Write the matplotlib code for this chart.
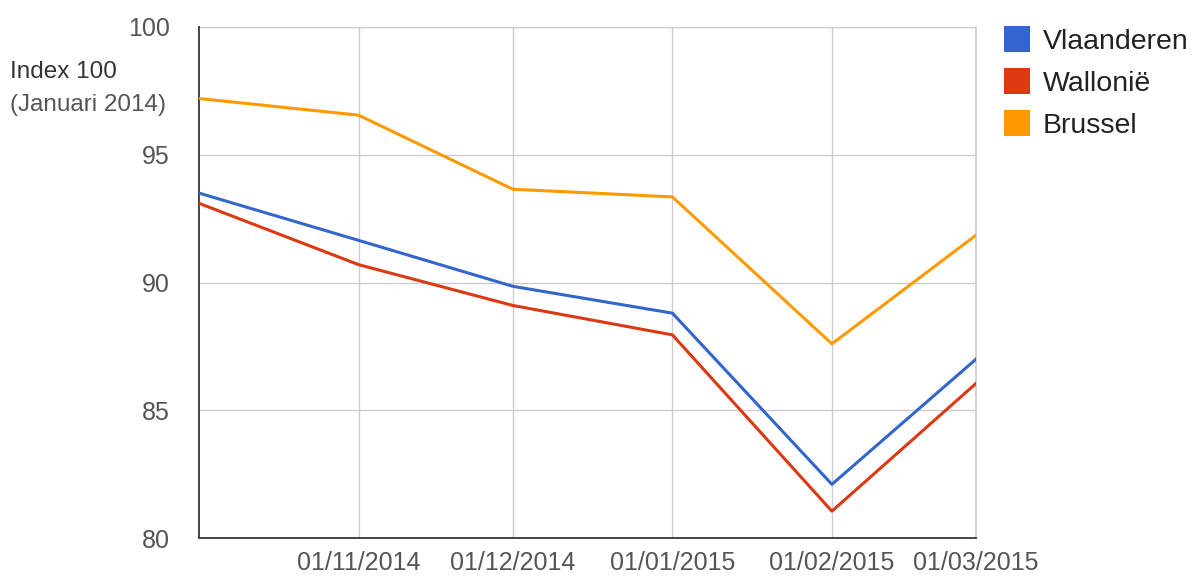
import matplotlib
matplotlib.use("Agg")
import matplotlib.pyplot as plt
import pandas as pd
from matplotlib.patches import Rectangle

plt.rcParams["font.family"] = ["Liberation Sans", "DejaVu Sans"]

# data
months = ["2014-10-01", "2014-11-01", "2014-12-01", "2015-01-01", "2015-02-01", "2015-03-01"]
vlaanderen = [93.5, 91.65, 89.85, 88.8, 82.1, 87.0]
wallonie = [93.1, 90.7, 89.1, 87.95, 81.05, 86.05]
brussel = [97.2, 96.55, 93.65, 93.35, 87.6, 91.85]
series_names = ["Vlaanderen", "Wallonië", "Brussel"]
colors = ["#3366cc", "#dc3912", "#ff9900"]
yticks = [80, 85, 90, 95, 100]
xtick_dates = months[1:]

W, H = 1192, 580
dates = pd.to_datetime(months)

fig = plt.figure(figsize=(W / 100, H / 100), dpi=100)
ax = fig.add_axes([199 / W, 1 - 538 / H, (976 - 199) / W, (538 - 27) / H])

for vals, name, c in zip([vlaanderen, wallonie, brussel], series_names, colors):
    ax.plot(dates, vals, color=c, lw=2.2, label=name, solid_joinstyle="round", zorder=3)

ax.set_xlim(dates[0], dates[-1])
ax.set_ylim(80, 100)
ax.set_yticks(yticks)
ax.set_yticklabels([str(v) for v in yticks])
xt = pd.to_datetime(xtick_dates)
ax.set_xticks(xt)
ax.set_xticklabels([d.strftime("%d/%m/%Y") for d in xt])

ax.grid(True, color="#cccccc", lw=1, zorder=0)
for s in ["top", "right"]:
    ax.spines[s].set_visible(False)
for s in ["left", "bottom"]:
    ax.spines[s].set_color("#444444")
    ax.spines[s].set_linewidth(1.4)
ax.tick_params(axis="both", length=0, labelsize=18, labelcolor="#555555")
ax.tick_params(axis="y", pad=21)
ax.tick_params(axis="x", pad=9)

# top and right border grid lines
ax.axhline(100, color="#cccccc", lw=1, zorder=0)
ax.axvline(dates[-1], color="#cccccc", lw=1.2, zorder=0, clip_on=False)

fig.text(10 / W, 1 - 72 / H, "Index 100", fontsize=17.5, color="#333333", va="center", ha="left")
fig.text(10 / W, 1 - 105 / H, "(Januari 2014)", fontsize=17.5, color="#555555", va="center", ha="left")

# legend, drawn by hand to match the spacing
for i, (name, c) in enumerate(zip(series_names, colors)):
    top = 26 + 42 * i
    fig.patches.append(Rectangle((1004 / W, 1 - (top + 26) / H), 26 / W, 26 / H,
                                 transform=fig.transFigure, facecolor=c, edgecolor="none"))
    fig.text(1043 / W, 1 - (top + 13) / H, name, fontsize=20.5, color="#222222",
             va="center_baseline", ha="left")

fig.savefig("out.png", dpi=100)
